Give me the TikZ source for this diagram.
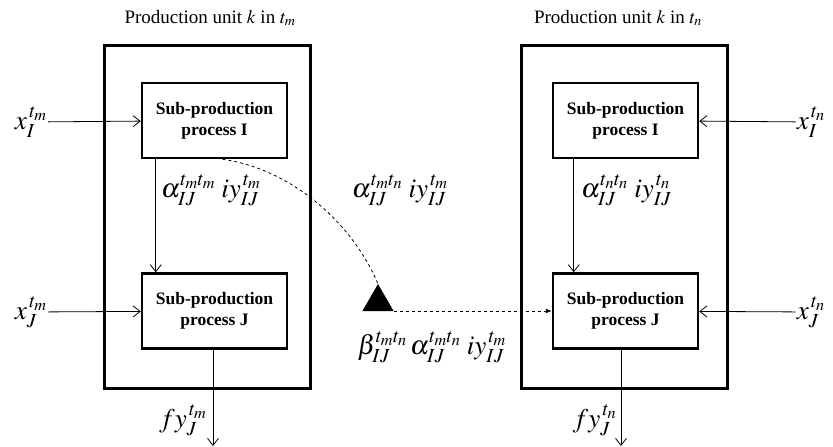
\documentclass[tikz,border=0pt]{standalone}
\usepackage{mathptmx}
\usepackage[no-math]{fontspec}
\setmainfont{Liberation Serif}
\usetikzlibrary{arrows.meta,shapes.geometric}
\tikzset{unit/.style={draw,line width=3pt,minimum width=206pt,minimum height=343pt,inner sep=0pt},
         sub/.style={draw,line width=2.5pt,minimum width=145pt,minimum height=75pt,align=center,
           font=\fontsize{17.5}{21}\selectfont\bfseries,inner sep=0pt},
         flow/.style={-{Straight Barb[length=7pt,width=11pt]},line width=.8pt},
         lbl/.style={font=\fontsize{27}{30}\selectfont,inner sep=1pt},
         ttl/.style={font=\fontsize{19}{22}\selectfont}}

\begin{document}
\begin{tikzpicture}[x=1pt,y=-1pt]
  \useasboundingbox (0,0) rectangle (833,447);
  % left unit (t_m)
  \node[ttl] (ttlL) at (210,18) {Production unit $k$ in $t_m$};
  \node[unit] (unitL) at (207,216.5) {};
  \node[sub] (subLI) at (214.5,120.5) {Sub-production\\process I};
  \node[sub] (subLJ) at (214.5,311) {Sub-production\\process J};
  \node[lbl] (xLI) at (31,122) {$x^{\,t_m}_{I}$};
  \node[lbl] (xLJ) at (31,312) {$x^{\,t_m}_{J}$};
  \node[lbl,anchor=west] (aLL) at (160,190) {$\alpha^{t_mt_m}_{IJ}\;iy^{\,t_m}_{IJ}$};
  \node[lbl,anchor=east] (fyL) at (208,420) {$fy^{\,t_m}_{J}$};
  \coordinate (outL) at (213,446);
  \draw[flow] (xLI) -- (subLI);
  \draw[flow] (xLJ) -- (subLJ);
  \draw[flow] ([xshift=15]subLI.south west) -- ([xshift=15]subLJ.north west);
  \draw[flow] (subLJ.south -| outL) -- (outL);
  % right unit (t_n)
  \node[ttl] (ttlR) at (618,18) {Production unit $k$ in $t_n$};
  \node[unit] (unitR) at (624.5,216.5) {};
  \node[sub] (subRI) at (625.5,120.5) {Sub-production\\process I};
  \node[sub] (subRJ) at (625.5,311) {Sub-production\\process J};
  \node[lbl] (xRI) at (811,122) {$x^{\,t_n}_{I}$};
  \node[lbl] (xRJ) at (811,312) {$x^{\,t_n}_{J}$};
  \node[lbl,anchor=west] (aRR) at (580,190) {$\alpha^{t_nt_n}_{IJ}\;iy^{\,t_n}_{IJ}$};
  \node[lbl,anchor=east] (fyR) at (618,420) {$fy^{\,t_n}_{J}$};
  \coordinate (outR) at (621,446);
  \draw[flow] (xRI) -- (subRI);
  \draw[flow] (xRJ) -- (subRJ);
  \draw[flow] ([xshift=22]subRI.south west) -- ([xshift=22]subRJ.north west);
  \draw[flow] (subRJ.south -| outR) -- (outR);
  % transfer between periods
  \node[regular polygon,regular polygon sides=3,fill,minimum size=36pt,inner sep=0pt,outer sep=0pt]
    (tri) at (378,302) {};
  \node[lbl] (aLR) at (400,190) {$\alpha^{t_mt_n}_{IJ}\;iy^{\,t_m}_{IJ}$};
  \node[lbl] (bLR) at (432,347) {$\beta^{t_mt_n}_{IJ}\,\alpha^{t_mt_n}_{IJ}\;iy^{\,t_m}_{IJ}$};
  \draw[dashed,line width=.8pt] ([xshift=8]subLI.south) .. controls +(70,10) and +(-25,-60) .. (tri.corner 1);
  \draw[dashed,line width=.8pt,-{Latex[length=6pt,width=5pt]}] (tri.corner 3) -- (subRJ.west);
\end{tikzpicture}
\end{document}
